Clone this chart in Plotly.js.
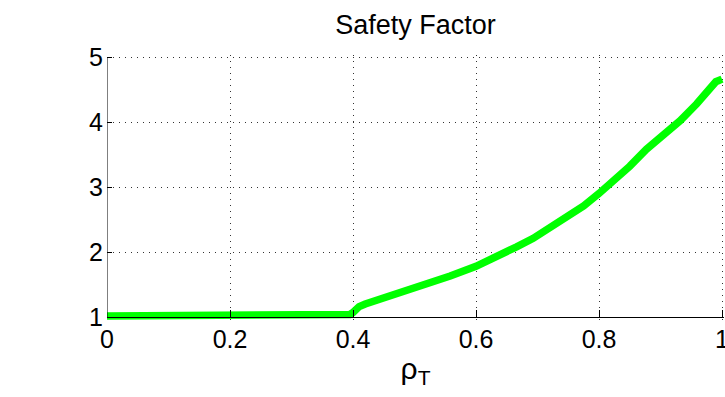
<!DOCTYPE html>
<html>
<head>
<meta charset="utf-8">
<script src="https://cdn.plot.ly/plotly-3.0.1.min.js"></script>
<style>
  html, body { margin: 0; padding: 0; background: #ffffff; }
  #chart { width: 725px; height: 397px; }
</style>
</head>
<body>
<div id="chart"></div>
<script>
// Normalised toroidal radius
const rho = [0, 0.05, 0.10, 0.15, 0.195, 0.20, 0.25, 0.30, 0.305, 0.35, 0.395,
             0.40, 0.41, 0.42, 0.45, 0.476, 0.50, 0.531, 0.558, 0.60, 0.639,
             0.666, 0.693, 0.72, 0.748, 0.775, 0.80, 0.823, 0.85, 0.877, 0.905,
             0.932, 0.959, 0.975, 0.99, 1.0];

// Safety factor profile q(rho)
const q = [1.015, 1.015, 1.015, 1.015, 1.015, 1.02, 1.02, 1.02, 1.035, 1.035, 1.04,
           1.07, 1.16, 1.20, 1.29, 1.37, 1.44, 1.53, 1.63, 1.78, 1.94,
           2.08, 2.21, 2.37, 2.54, 2.71, 2.90, 3.08, 3.32, 3.58, 3.80,
           4.02, 4.28, 4.47, 4.62, 4.66];

const xTicks = [0, 0.2, 0.4, 0.6, 0.8, 1];
const xTickText = ['0', '0.2', '0.4', '0.6', '0.8', '1'];
const yTicks = [1, 2, 3, 4, 5];
const yTickText = ['1', '2', '3', '4', '5'];

const FONT = 'Liberation Sans, Arial, Helvetica, sans-serif';

// pixel geometry of the plotting area
const PX_PER_X = 615;   // one unit of rho
const PX_PER_Y = 65;    // one unit of q
const PAD_BOTTOM = 4;   // room below q = 1 so the thick line is not clipped
const PAD_EDGE = 2;     // keeps the grid lines at rho = 1 and q = 5 inside the frame

const xHigh = 1 + PAD_EDGE / PX_PER_X;
const yLow = 1 - PAD_BOTTOM / PX_PER_Y;
const yHigh = 5 + PAD_EDGE / PX_PER_Y;
const marginT = 57 - PAD_EDGE;
const marginB = 397 - 317 - PAD_BOTTOM;
const plotH = 397 - marginT - marginB;

const trace = {
  x: rho,
  y: q,
  type: 'scatter',
  mode: 'lines',
  line: { color: '#00ff00', width: 7.5, shape: 'linear' },
  hoverinfo: 'skip'
};

const layout = {
  width: 725,
  height: 397,
  margin: { l: 107, r: 725 - 107 - PX_PER_X - PAD_EDGE, t: marginT, b: marginB, pad: 0 },
  paper_bgcolor: '#ffffff',
  plot_bgcolor: '#ffffff',
  showlegend: false,
  font: { family: FONT, color: '#000000', size: 25 },
  title: {
    text: 'Safety Factor',
    font: { family: FONT, size: 27, color: '#000000' },
    x: 0.5, xref: 'paper', xanchor: 'center',
    y: 1, yref: 'paper', yanchor: 'bottom',
    pad: { b: 21 }
  },
  xaxis: {
    range: [0, xHigh],
    anchor: 'free',
    position: PAD_BOTTOM / plotH,
    tickvals: xTicks,
    ticktext: xTickText,
    ticks: 'inside',
    ticklen: 7,
    tickwidth: 1,
    tickcolor: '#000000',
    ticklabeloverflow: 'allow',
    showline: true,
    linecolor: '#000000',
    linewidth: 1,
    zeroline: false,
    showgrid: true,
    gridcolor: '#333333',
    gridwidth: 1,
    griddash: '1px,5px',
    tickfont: { family: FONT, size: 25, color: '#000000' },
    title: {
      text: 'ρ<sub>T</sub>',
      font: { family: FONT, size: 30, color: '#000000' },
      standoff: 5
    }
  },
  yaxis: {
    range: [yLow, yHigh],
    tickvals: yTicks,
    ticktext: yTickText,
    ticks: 'inside',
    ticklen: 5,
    tickwidth: 1,
    tickcolor: '#000000',
    ticklabelstandoff: 3,
    showline: false,
    zeroline: false,
    showgrid: true,
    gridcolor: '#333333',
    gridwidth: 1,
    griddash: '1px,5px',
    tickfont: { family: FONT, size: 25, color: '#000000' }
  },
  shapes: [
    // left axis spine, from q = 1 up to q = 5
    { type: 'line', xref: 'x', yref: 'y', x0: 0, x1: 0, y0: 1, y1: 5,
      line: { color: '#000000', width: 1 }, layer: 'above' }
  ]
};

Plotly.newPlot('chart', [trace], layout, { staticPlot: true, displayModeBar: false });
</script>
</body>
</html>
